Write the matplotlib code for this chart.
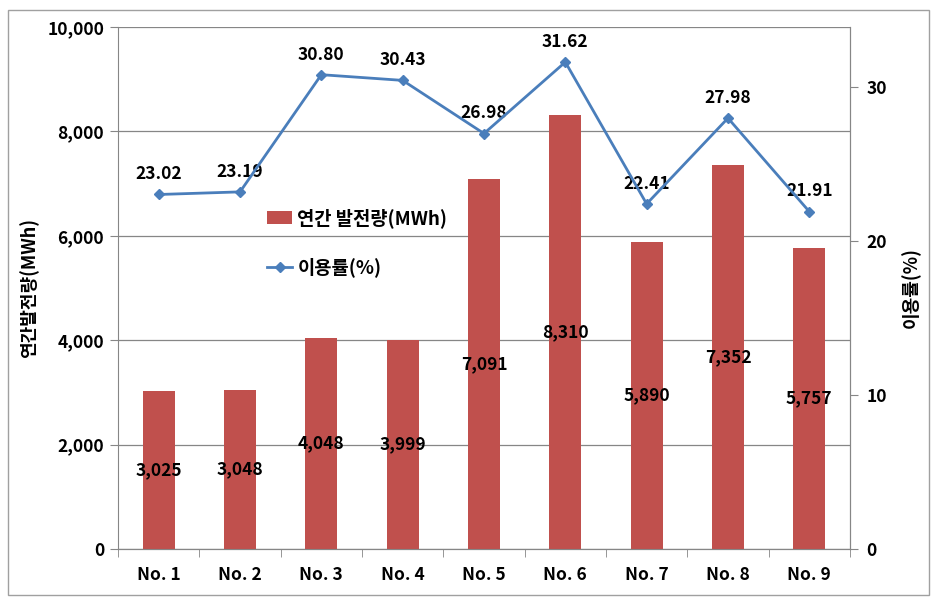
import matplotlib.pyplot as plt
from matplotlib.patches import Rectangle
import numpy as np

plt.rcParams['font.family'] = ['Noto Sans CJK KR', 'DejaVu Sans']
plt.rcParams['font.weight'] = 'bold'

# data
units = ['No. 1', 'No. 2', 'No. 3', 'No. 4', 'No. 5', 'No. 6', 'No. 7', 'No. 8', 'No. 9']
generation = [3025, 3048, 4048, 3999, 7091, 8310, 5890, 7352, 5757]
utilization = [23.02, 23.19, 30.80, 30.43, 26.98, 31.62, 22.41, 27.98, 21.91]

bar_color = '#C0504D'
line_color = '#4A7EBB'
grid_color = '#868686'

fig = plt.figure(figsize=(9.33, 5.99), dpi=100)
ax = fig.add_axes([0.1265, 0.0835, 0.7845, 0.8715])
ax2 = ax.twinx()

x = np.arange(len(units))
bars = ax.bar(x, generation, width=0.39, color=bar_color, zorder=3,
              label='연간 발전량(MWh)')
line, = ax2.plot(x, utilization, color=line_color, lw=2, marker='D', ms=5,
                 zorder=4, label='이용률(%)')

ax.set_xlim(-0.5, len(units) - 0.5)
ax.set_ylim(0, 10000)
ax.set_yticks(range(0, 10001, 2000))
ax.set_yticklabels([f'{v:,}' for v in range(0, 10001, 2000)])
ax2.set_ylim(0, 33.9)
ax2.set_yticks([0, 10, 20, 30])

ax.set_xticks(x)
ax.set_xticklabels(units)
ax.set_xticks(np.arange(-0.5, len(units)), minor=True)
ax.tick_params(axis='x', which='major', length=0, pad=12, labelsize=12.5)
ax.tick_params(axis='x', which='minor', length=6, color=grid_color, direction='out')
ax.tick_params(axis='y', length=6, color=grid_color, labelsize=12.5, pad=4)
ax2.tick_params(axis='y', length=6, color=grid_color, labelsize=12.5, pad=6)

ax.grid(axis='y', color=grid_color, lw=0.9, zorder=0)
ax.set_axisbelow(True)
for a in (ax, ax2):
    a.spines['top'].set_visible(False)
    for s in ('left', 'right', 'bottom'):
        a.spines[s].set_color(grid_color)
ax2.spines['left'].set_visible(False)

ax.set_ylabel('연간발전량(MWh)', fontsize=13, fontweight='bold', labelpad=6)
ax2.set_ylabel('이용률(%)', fontsize=13, fontweight='bold', labelpad=10)

# labels
for xi, v in zip(x, generation):
    ax.text(xi, v / 2, f'{v:,}', ha='center', va='center', fontsize=12.5,
            fontweight='bold', zorder=5)
for xi, v in zip(x, utilization):
    ax2.annotate(f'{v:.2f}', (xi, v), xytext=(0, 8), textcoords='offset points',
                 ha='center', va='bottom', fontsize=12.5, fontweight='bold')

leg = ax.legend([bars, line], ['연간 발전량(MWh)', '이용률(%)'],
                loc='upper left', bbox_to_anchor=(0.181, 0.685), frameon=False,
                fontsize=13.5, handlelength=1.3, handletextpad=0.3, labelspacing=1.55)
for t in leg.get_texts():
    t.set_fontweight('bold')

fig.patches.append(Rectangle((8 / 933, 4 / 599), 921 / 933, 585 / 599,
                             transform=fig.transFigure, fill=False,
                             edgecolor='#A0A0A0', lw=1))

fig.savefig('out.png', dpi=100)
